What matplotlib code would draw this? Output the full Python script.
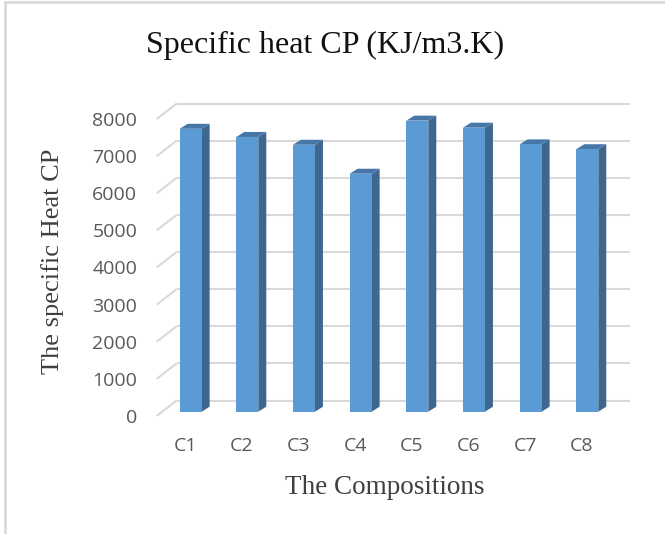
import matplotlib
matplotlib.use("Agg")
import matplotlib.pyplot as plt
from matplotlib.patches import Polygon
from matplotlib.lines import Line2D

categories = ["C1", "C2", "C3", "C4", "C5", "C6", "C7", "C8"]
values = [7620, 7400, 7190, 6410, 7840, 7650, 7200, 7070]
y_ticks = [0, 1000, 2000, 3000, 4000, 5000, 6000, 7000, 8000]

title = "Specific heat CP (KJ/m3.K)"
x_label = "The Compositions"
y_label = "The specific Heat CP"

W, H = 665, 534
fig = plt.figure(figsize=(W / 100, H / 100), dpi=100)
fig.patch.set_facecolor("white")

# chart border (left and top visible)
fig.add_artist(Line2D([5 / W, 5 / W], [0, 1 - 2 / H], transform=fig.transFigure,
                      color="#d9d9d9", lw=2))
fig.add_artist(Line2D([5 / W, 1], [1 - 2 / H, 1 - 2 / H], transform=fig.transFigure,
                      color="#d9d9d9", lw=2))

left_px, right_px = 156.7, 610.0
zero_px, top_px = 416.0, 119.0
ax = fig.add_axes([left_px / W, 1 - zero_px / H, (right_px - left_px) / W,
                   (zero_px - top_px) / H])
ax.set_xlim(-0.5, len(categories) - 0.5)
ax.set_ylim(y_ticks[0], y_ticks[-1])
ax.patch.set_alpha(0)
for s in ax.spines.values():
    s.set_visible(False)

# pixel -> data conversion
sx = (len(categories)) / (right_px - left_px)
sy = (y_ticks[-1] - y_ticks[0]) / (zero_px - top_px)

# floor / wall depth offset
DX, DY = 20 * sx, 15.5 * sy
grid_c = "#d9d9d9"
x0, x1 = -0.5, len(categories) - 0.5
for v in y_ticks:
    ax.plot([x0 + DX, x1 + DX], [v + DY, v + DY], color=grid_c, lw=1.5,
            clip_on=False, zorder=1, solid_capstyle="butt")
    ax.plot([x0, x0 + DX], [v, v + DY], color=grid_c, lw=1.5,
            clip_on=False, zorder=1, solid_capstyle="butt")

# bars (3D look)
front_c, side_c, top_c = "#5b9bd5", "#3e6790", "#4677a8"
bw = 22 * sx
bdx0, bdy0 = 5.6 * sx, 4.3 * sy      # bar front face position in depth
bdx, bdy = 8 * sx, 5 * sy             # bar depth
for i, v in enumerate(values):
    xl = i - bw / 2 + bdx0
    xr = i + bw / 2 + bdx0
    yb = bdy0
    yt = v + bdy0
    side = Polygon([(xr, yb), (xr + bdx, yb + bdy), (xr + bdx, yt + bdy), (xr, yt)],
                   closed=True, facecolor=side_c, edgecolor="none",
                   clip_on=False, zorder=3)
    top = Polygon([(xl, yt), (xl + bdx, yt + bdy), (xr + bdx, yt + bdy), (xr, yt)],
                  closed=True, facecolor=top_c, edgecolor="none",
                  clip_on=False, zorder=3)
    ax.add_patch(side)
    ax.add_patch(top)
ax.bar([i + bdx0 for i in range(len(values))], values, width=bw, bottom=bdy0,
       color=front_c, edgecolor="none", zorder=4, clip_on=False)

tick_font = dict(family=["Open Sans", "DejaVu Sans"], size=14, color="#595959")
ax.set_yticks(y_ticks)
ax.set_yticklabels([str(v) for v in y_ticks], **tick_font)
ax.set_xticks(range(len(categories)))
ax.set_xticklabels(categories, **tick_font)
ax.tick_params(axis="y", length=0, pad=14)
ax.tick_params(axis="x", length=0, pad=15)

serif = ["Liberation Serif", "DejaVu Serif"]
fig.text(325 / W, 1 - 45 / H, title, ha="center", va="center",
         family=serif, size=23, color="#111111")
fig.text(385 / W, 1 - 487 / H, x_label, ha="center", va="center",
         family=serif, size=19.5, color="#404040")
fig.text(53 / W, 1 - 261 / H, y_label, ha="center", va="center", rotation=90,
         family=serif, size=19, color="#404040")

fig.savefig("out.png", dpi=100, facecolor="white")
